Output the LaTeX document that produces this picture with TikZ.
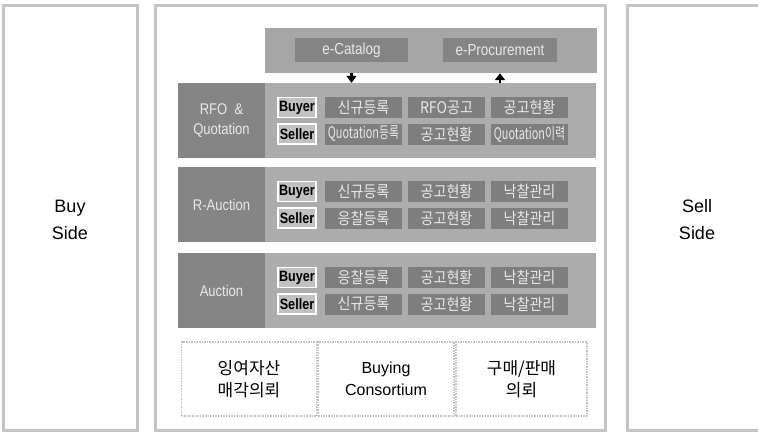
\documentclass[tikz,border=0pt]{standalone}
\usepackage{fontspec}
\setmainfont{Liberation Sans}
\newfontfamily\kr{Noto Sans CJK KR}
\newfontfamily\krc[FakeStretch=0.88]{Noto Sans CJK KR}
\newfontfamily\krq[FakeStretch=0.68]{Noto Sans CJK KR}
\newfontfamily\lsc[FakeStretch=0.84]{Liberation Sans}
\usetikzlibrary{arrows.meta}
\definecolor{bandgray}{HTML}{ACACAC}
\definecolor{topgray}{HTML}{A6A6A6}
\definecolor{darkcell}{HTML}{7E7E7E}
\definecolor{labelgray}{HTML}{858585}
\definecolor{celltext}{HTML}{E8E8E8}
\definecolor{frame}{HTML}{C4C4C4}
\begin{document}
\begin{tikzpicture}[x=1pt,y=-1pt,
  panel/.style={draw=frame,line width=3pt},
  bandbox/.style={fill=bandgray,draw=none,minimum width=331pt,minimum height=75pt,inner sep=0pt},
  topband/.style={fill=topgray,draw=none,minimum width=332pt,minimum height=45pt,inner sep=0pt},
  labelbox/.style={fill=labelgray,draw=none,minimum width=87pt,minimum height=75pt,inner sep=0pt,
    text=celltext,font=\lsc\fontsize{15.5}{20}\selectfont,align=center},
  cell/.style={fill=darkcell,draw=none,minimum width=77pt,minimum height=21pt,inner sep=0pt,
    text=celltext,font=\krc\fontsize{16}{17}\selectfont},
  qcell/.style={cell,font=\krq\fontsize{16}{17}\selectfont},
  rolebox/.style={fill=bandgray!75!white,draw=white,line width=1.3pt,minimum width=38pt,minimum height=20pt,
    inner sep=0pt,text=black,font=\lsc\bfseries\fontsize{15}{16}\selectfont},
  topcell/.style={fill=darkcell!95!white,draw=none,minimum height=24pt,inner sep=0pt,
    text=celltext,font=\lsc\fontsize{16}{18}\selectfont},
  bottombox/.style={draw=frame,line width=1.6pt,densely dotted,minimum height=74pt,inner sep=0pt,align=center},
  arr/.style={line width=2.6pt,-{Triangle[length=7pt,width=10pt]}},
  sidetext/.style={font=\fontsize{18}{27}\selectfont,align=center}
]
\useasboundingbox (0,0) rectangle (758,434);
\fill[white] (0,0) rectangle (758,434);

% side panels and centre panel
\draw[panel] (3,5) rectangle (137,430);
\node[sidetext] (buy) at (70,220) {Buy\\Side};
\draw[panel] (762,5) -- (627,5) -- (627,430) -- (762,430);
\node[sidetext] (sell) at (697,220) {Sell\\Side};
\draw[panel] (155,5) rectangle (605,430);

% top band
\node[topband] (top) at (431,50.5) {};
\node[topcell,minimum width=113pt] (cat) at (351.5,50) {e-Catalog};
\node[topcell,minimum width=114pt] (proc) at (500,50) {e-Procurement};

% block 1: RFO & Quotation (T=83)
\node[labelbox] (l1) at (221.5,120.5) {RFO \ \&\\Quotation};
\node[bandbox] (b1) at (430.5,120.5) {};
\node[rolebox] (b1r1) at (297,107.5) {Buyer};
\node[cell] (b1c11) at (363.5,107.5) {신규등록};
\node[cell] (b1c12) at (446.5,107.5) {RFO공고};
\node[cell] (b1c13) at (529.5,107.5) {공고현황};
\node[rolebox] (b1r2) at (297,134) {Seller};
\node[qcell] (b1c21) at (363.5,134) {Quotation등록};
\node[cell] (b1c22) at (446.5,134) {공고현황};
\node[qcell] (b1c23) at (529.5,134) {Quotation이력};

% arrows
\draw[arr] (top.south -| cat.south) -- (b1.north -| cat.south);
\draw[arr] (b1.north -| proc.south) -- (top.south -| proc.south);

% block 2: R-Auction (T=167)
\node[labelbox] (l2) at (221.5,204.5) {R-Auction};
\node[bandbox] (b2) at (430.5,204.5) {};
\node[rolebox] (b2r1) at (297,191.5) {Buyer};
\node[cell] (b2c11) at (363.5,191.5) {신규등록};
\node[cell] (b2c12) at (446.5,191.5) {공고현황};
\node[cell] (b2c13) at (529.5,191.5) {낙찰관리};
\node[rolebox] (b2r2) at (297,218) {Seller};
\node[cell] (b2c21) at (363.5,218) {응찰등록};
\node[cell] (b2c22) at (446.5,218) {공고현황};
\node[cell] (b2c23) at (529.5,218) {낙찰관리};

% block 3: Auction (T=253)
\node[labelbox] (l3) at (221.5,290.5) {Auction};
\node[bandbox] (b3) at (430.5,290.5) {};
\node[rolebox] (b3r1) at (297,277.5) {Buyer};
\node[cell] (b3c11) at (363.5,277.5) {응찰등록};
\node[cell] (b3c12) at (446.5,277.5) {공고현황};
\node[cell] (b3c13) at (529.5,277.5) {낙찰관리};
\node[rolebox] (b3r2) at (297,304) {Seller};
\node[cell] (b3c21) at (363.5,304) {신규등록};
\node[cell] (b3c22) at (446.5,304) {공고현황};
\node[cell] (b3c23) at (529.5,304) {낙찰관리};

% bottom boxes
\node[bottombox,minimum width=135pt,font=\kr\fontsize{17}{22}\selectfont] (s1) at (249,379) {잉여자산\\매각의뢰};
\node[bottombox,minimum width=136pt,font=\fontsize{16}{22}\selectfont] (s2) at (386,379) {Buying\\Consortium};
\node[bottombox,minimum width=131pt,font=\kr\fontsize{17}{22}\selectfont] (s3) at (521.5,379) {구매/판매\\의뢰};
\end{tikzpicture}
\end{document}
